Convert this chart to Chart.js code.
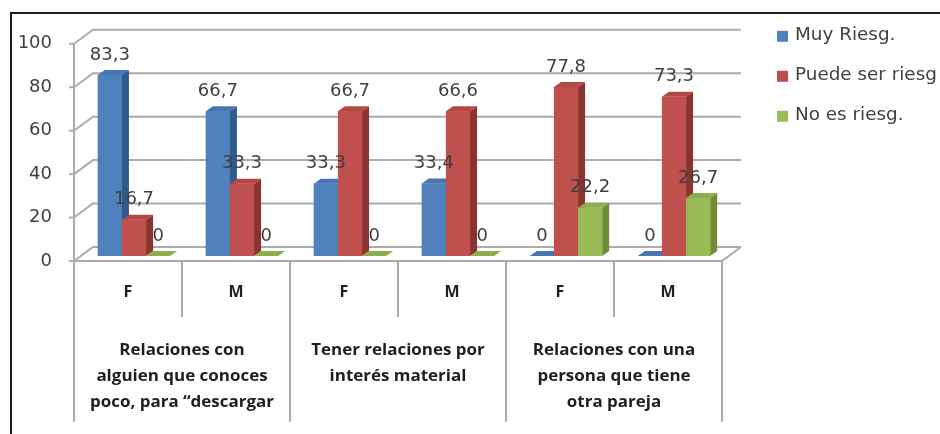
<!DOCTYPE html>
<html>
<head>
<meta charset="utf-8">
<script src="https://cdn.jsdelivr.net/npm/chart.js@4.4.0/dist/chart.umd.min.js"></script>
<style>
html,body{margin:0;padding:0;background:#fff;}
canvas{display:block;}
</style>
</head>
<body>
<canvas id="grafico" width="940" height="434"></canvas>
<script>
// datos
const sexos = ['F', 'M', 'F', 'M', 'F', 'M'];
const grupos = [
    ['Relaciones con', 'alguien que conoces', 'poco, para \u201cdescargar'],
    ['Tener relaciones por', 'interés material'],
    ['Relaciones con una', 'persona que tiene', 'otra pareja']
];
const series = ['Muy Riesg.', 'Puede ser riesg', 'No es riesg.'];
const muyRiesg = [83.3, 66.7, 33.3, 33.4, 0, 0];
const puedeSer = [16.7, 33.3, 66.7, 66.6, 77.8, 73.3];
const noEsRiesg = [0, 0, 0, 0, 22.2, 26.7];
const ticksY = [0, 20, 40, 60, 80, 100];

const colores = ['#4F81BD', '#C0504D', '#9BBB59'];
const lados = ['#2f5a8c', '#8a3331', '#6f8c36'];   // cara lateral
const techos = ['#4676b0', '#b34744', '#8cae4d'];  // cara de arriba

// desplazamientos de la perspectiva
const FRENTE = { dx: -6, dy: 5 };
const FONDO = { dx: 13, dy: -9 };
const PROF = { dx: 7, dy: -5 };

function poligono(ctx, pts) {
    ctx.beginPath();
    ctx.moveTo(pts[0][0], pts[0][1]);
    for (let i = 1; i < pts.length; i++) ctx.lineTo(pts[i][0], pts[i][1]);
    ctx.closePath();
    ctx.fill();
}

function texto(ctx, t, x, y, sx) {
    ctx.save();
    ctx.translate(x, y);
    ctx.scale(sx, 1);
    ctx.fillText(t, 0, 0);
    ctx.restore();
}

const formato = v => String(v).replace('.', ',');

const escena = {
    id: 'escena',
    beforeDatasetsDraw(chart) {
        const { ctx, chartArea: a, scales: { x, y } } = chart;
        ctx.save();
        // marco
        ctx.strokeStyle = '#1e1e1e';
        ctx.lineWidth = 2;
        ctx.beginPath();
        ctx.moveTo(11, 434); ctx.lineTo(11, 13); ctx.lineTo(940, 13);
        ctx.stroke();

        // pared del fondo
        ctx.strokeStyle = '#ababab';
        ctx.lineWidth = 2;
        y.ticks.forEach(t => {
            const py = y.getPixelForValue(t.value);
            ctx.beginPath();
            ctx.moveTo(a.left + FRENTE.dx, py + FRENTE.dy);
            ctx.lineTo(a.left + FONDO.dx, py + FONDO.dy);
            ctx.lineTo(a.right + FONDO.dx, py + FONDO.dy);
            ctx.stroke();
            ctx.beginPath();
            ctx.moveTo(a.left + FRENTE.dx - 5, py + FRENTE.dy);
            ctx.lineTo(a.left + FRENTE.dx, py + FRENTE.dy);
            ctx.stroke();
        });

        // ejes del frente
        const y0 = y.getPixelForValue(0) + FRENTE.dy;
        const y100 = y.getPixelForValue(100) + FRENTE.dy;
        const xl = a.left + FRENTE.dx, xr = a.right + FRENTE.dx;
        ctx.beginPath();
        ctx.moveTo(xl, y100); ctx.lineTo(xl, y0); ctx.lineTo(xr, y0);
        ctx.lineTo(a.right + FONDO.dx, y.getPixelForValue(0) + FONDO.dy);
        ctx.stroke();

        // separadores de categorias
        const w = (x.right - x.left) / sexos.length;
        for (let k = 0; k <= sexos.length; k++) {
            const px = x.left + k * w + FRENTE.dx;
            ctx.beginPath();
            ctx.moveTo(px, y0);
            ctx.lineTo(px, k % 2 ? y0 + 56 : y0 + 161);
            ctx.stroke();
        }

        // etiquetas de grupo
        ctx.fillStyle = '#1e1e1e';
        ctx.font = 'bold 16px "Open Sans"';
        ctx.textAlign = 'center';
        ctx.textBaseline = 'middle';
        grupos.forEach((lineas, g) => {
            const cx = x.left + (2 * g + 1) * w + FRENTE.dx;
            lineas.forEach((l, i) => texto(ctx, l, cx, y0 + 89 + i * 26, 1.06));
        });
        ctx.restore();
    },
    afterDatasetsDraw(chart) {
        const ctx = chart.ctx;
        ctx.save();
        chart.data.datasets.forEach((ds, i) => {
            chart.getDatasetMeta(i).data.forEach(bar => {
                const l = bar.x - bar.width / 2, r = bar.x + bar.width / 2;
                const t = bar.y, b = bar.base;
                ctx.fillStyle = lados[i];
                poligono(ctx, [[r, t], [r + PROF.dx, t + PROF.dy], [r + PROF.dx, b + PROF.dy], [r, b]]);
                ctx.fillStyle = techos[i];
                poligono(ctx, [[l, t], [l + PROF.dx, t + PROF.dy], [r + PROF.dx, t + PROF.dy], [r, t]]);
                ctx.fillStyle = colores[i];
                ctx.fillRect(l, t, r - l, b - t);
            });
        });
        // valores
        ctx.font = '18px "DejaVu Sans"';
        ctx.fillStyle = '#404040';
        ctx.textAlign = 'center';
        ctx.textBaseline = 'middle';
        chart.data.datasets.forEach((ds, i) => {
            chart.getDatasetMeta(i).data.forEach((bar, j) => {
                ctx.fillText(formato(ds.data[j]), bar.x, bar.y - 20);
            });
        });
        ctx.restore();
    },
    afterDraw(chart) {
        const { ctx, chartArea: a } = chart;
        ctx.save();
        ctx.font = '17px "DejaVu Sans"';
        ctx.textAlign = 'left';
        ctx.textBaseline = 'middle';
        chart.data.datasets.forEach((ds, i) => {
            const cy = a.top - 3 + i * 40;
            ctx.fillStyle = colores[i];
            ctx.fillRect(a.right + 49, cy - 5, 11, 11);
            ctx.fillStyle = '#404040';
            texto(ctx, ds.label, a.right + 67, cy, 1.08);
        });
        ctx.restore();
    }
};

new Chart(document.getElementById('grafico'), {
    type: 'bar',
    data: {
        labels: sexos,
        datasets: [
            { label: series[0], data: muyRiesg, backgroundColor: colores[0] },
            { label: series[1], data: puedeSer, backgroundColor: colores[1] },
            { label: series[2], data: noEsRiesg, backgroundColor: colores[2] }
        ]
    },
    options: {
        responsive: false,
        animation: false,
        devicePixelRatio: 1,
        events: [],
        datasets: { bar: { categoryPercentage: 0.67, barPercentage: 1.0, borderWidth: 0 } },
        layout: { padding: { left: 0, right: 212, top: 36, bottom: 0 } },
        plugins: { legend: { display: false }, tooltip: { enabled: false } },
        scales: {
            x: {
                afterFit: s => { s.height = 178; },
                grid: { display: false, drawTicks: false },
                border: { display: false },
                ticks: {
                    padding: 27, labelOffset: -6, color: '#1e1e1e',
                    font: { family: 'Open Sans', size: 16, weight: 'bold' }
                }
            },
            y: {
                min: 0, max: 100,
                afterBuildTicks: s => { s.ticks = ticksY.map(v => ({ value: v })); },
                afterFit: s => { s.width = 80; },
                grid: { display: false, drawTicks: false },
                border: { display: false },
                ticks: {
                    padding: 28, labelOffset: 5, color: '#404040',
                    font: { family: 'DejaVu Sans', size: 18 }
                }
            }
        }
    },
    plugins: [escena]
});
</script>
</body>
</html>
